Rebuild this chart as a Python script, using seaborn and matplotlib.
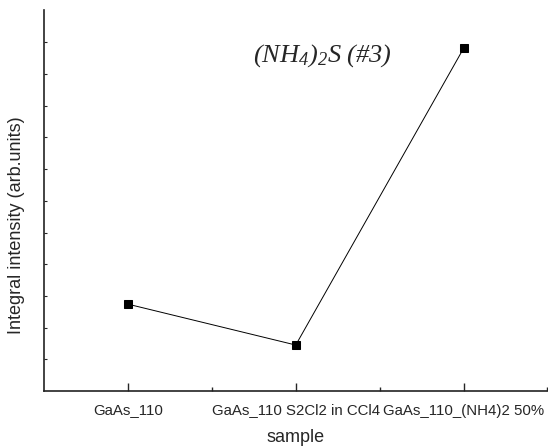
import matplotlib
matplotlib.use("Agg")
import matplotlib.pyplot as plt
import matplotlib.transforms as mtransforms
import seaborn as sns
import numpy as np
import pandas as pd

categories = ["GaAs_110", "GaAs_110 S2Cl2 in CCl4", "GaAs_110_(NH4)2 50%"]
intensity = [2.74, 1.45, 10.81]
annotation = r"$(NH_4)_2S\ (\#3)$"

sns.set_style("ticks")
plt.rcParams['font.family'] = ['Liberation Sans', 'DejaVu Sans']
plt.rcParams['mathtext.fontset'] = 'custom'
plt.rcParams['mathtext.it'] = 'Liberation Serif:italic'
plt.rcParams['mathtext.rm'] = 'Liberation Serif:italic'
plt.rcParams['mathtext.default'] = 'it'

df = pd.DataFrame({"sample": categories, "intensity": intensity})

fig = plt.figure(figsize=(5.48, 4.47), dpi=100)
ax = fig.add_axes([44/548, 1-391/447, 503.5/548, 381/447])
sns.lineplot(data=df, x="sample", y="intensity", sort=False, marker="s",
             color="black", linewidth=0.7, markersize=5.8, markeredgecolor="black", ax=ax)

ax.set_xlim(-0.5, 2.5)
ax.set_ylim(0, 12.02)
ax.set_xticks([0, 1, 2])
ax.set_xticklabels(categories, fontsize=10.8)
ax.set_xticks([0.5, 1.5, 2.5], minor=True)
ax.set_yticks(np.arange(1, 12))
ax.set_yticklabels([])
ax.tick_params(axis='x', which='major', direction='in', length=6, width=1, pad=9)
ax.tick_params(axis='x', which='minor', direction='in', length=3, width=1)
ax.tick_params(axis='y', which='major', direction='in', length=2.5, width=0.8)
for s in ["top", "right"]:
    ax.spines[s].set_visible(False)
for s in ["left", "bottom"]:
    ax.spines[s].set_linewidth(1.2)
    ax.spines[s].set_color("#222222")

ax.set_xlabel("sample", fontsize=13, labelpad=8)
ax.set_ylabel("Integral intensity (arb.units)", fontsize=13)
ax.yaxis.set_label_coords(25.5/548, 1-225/447, transform=fig.transFigure)
t = ax.text(322, 447-62, annotation, fontsize=19, ha="center", va="baseline",
            transform=mtransforms.IdentityTransform())

fig.savefig("out.png", dpi=100)
